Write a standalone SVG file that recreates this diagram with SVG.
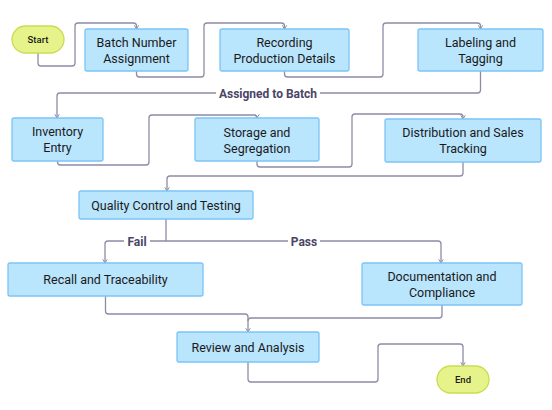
<svg xmlns="http://www.w3.org/2000/svg" width="552" height="410" viewBox="0 0 552 410">
<style>
.box{fill:#b9e5fd;stroke:#7cc4f6;stroke-width:1.3}
.term{fill:#e6f38a;stroke:#c9dd52;stroke-width:1.3}
.t{font-family:Roboto,"Liberation Sans",sans-serif;font-size:12.5px;fill:#1a1a1a;text-anchor:middle}
.ts{font-family:Roboto,"Liberation Sans",sans-serif;font-size:9.5px;font-weight:500;fill:#1a1a1a;text-anchor:middle}
.c{fill:none;stroke:#8f8ba6;stroke-width:1.3;stroke-linejoin:round}
.lbl{font-family:Roboto,"Liberation Sans",sans-serif;font-size:12px;font-weight:bold;fill:#4b4568;text-anchor:middle}
.lbg{fill:#ffffff}
</style>
<defs>
<marker id="arr" viewBox="0 0 8 8" refX="6" refY="4" markerWidth="6" markerHeight="6" orient="auto" markerUnits="userSpaceOnUse">
<path d="M1,1 L6,4 L1,7" fill="none" stroke="#8f8ba6" stroke-width="1.3"/>
</marker>
</defs>
<rect width="552" height="410" fill="#ffffff"/>
<g id="connectors">
<path class="c" marker-end="url(#arr)" d="M38,53 V63 Q38,66 41,66 H72 Q75,66 75,63 V26 Q75,23 78,23 H133.5 Q136.5,23 136.5,26 V29"/>
<path class="c" marker-end="url(#arr)" d="M136.5,71 V74 Q136.5,77 139.5,77 H201 Q204,77 204,74 V26 Q204,23 207,23 H281.5 Q284.5,23 284.5,26 V29"/>
<path class="c" marker-end="url(#arr)" d="M284.5,71 V74 Q284.5,77 287.5,77 H380 Q383,77 383,74 V26 Q383,23 386,23 H477.5 Q480.5,23 480.5,26 V29"/>
<path class="c" marker-end="url(#arr)" d="M480.5,71 V90 Q480.5,93 477.5,93 H60 Q57,93 57,96 V118"/>
<path class="c" marker-end="url(#arr)" d="M57.5,161 V162 Q57.5,165 60.5,165 H146 Q149,165 149,162 V118 Q149,115 152,115 H254 Q257,115 257,118"/>
<path class="c" marker-end="url(#arr)" d="M257,161 V164 Q257,167 260,167 H349 Q352,167 352,164 V117 Q352,114 355,114 H460 Q463,114 463,117 V119"/>
<path class="c" marker-end="url(#arr)" d="M463,162 V173 Q463,176 460,176 H170 Q167,176 167,179 V191"/>
<path class="c" marker-end="url(#arr)" d="M166,219 V241 H108 Q105,241 105,244 V263"/>
<path class="c" marker-end="url(#arr)" d="M166,241 H438 Q441,241 441,244 V263"/>
<path class="c" marker-end="url(#arr)" d="M105.5,296 V311 Q105.5,314 108.5,314 H245 Q248,314 248,317 V332"/>
<path class="c" d="M442,305 V315 Q442,318 439,318 H251 Q248,318 248,321"/>
<path class="c" marker-end="url(#arr)" d="M248,362 V379 Q248,382 251,382 H375 Q378,382 378,379 V347 Q378,344 381,344 H460 Q463,344 463,347 V366"/>
<rect class="lbg" x="216" y="85" width="104" height="16"/>
<text class="lbl" x="268" y="97.5">Assigned to Batch</text>
<rect class="lbg" x="124" y="233" width="26" height="16"/>
<text class="lbl" x="137" y="245.5">Fail</text>
<rect class="lbg" x="288" y="233" width="32" height="16"/>
<text class="lbl" x="304" y="245.5">Pass</text>
</g>
<g id="start">
<rect class="term" x="12" y="26" width="52" height="27" rx="13.5"/>
<text class="ts" x="38" y="43">Start</text>
</g>
<g id="batch">
<rect class="box" x="85" y="29" width="103" height="42" rx="2"/>
<text class="t" x="136.5" y="46.5">Batch Number</text>
<text class="t" x="136.5" y="62.5">Assignment</text>
</g>
<g id="recording">
<rect class="box" x="220" y="29" width="129" height="42" rx="2"/>
<text class="t" x="284.5" y="46.5">Recording</text>
<text class="t" x="284.5" y="62.5">Production Details</text>
</g>
<g id="labeling">
<rect class="box" x="418" y="29" width="125" height="42" rx="2"/>
<text class="t" x="480.5" y="46.5">Labeling and</text>
<text class="t" x="480.5" y="62.5">Tagging</text>
</g>
<g id="inventory">
<rect class="box" x="12" y="118" width="91" height="43" rx="2"/>
<text class="t" x="57.5" y="136">Inventory</text>
<text class="t" x="57.5" y="152">Entry</text>
</g>
<g id="storage">
<rect class="box" x="195" y="118" width="124" height="43" rx="2"/>
<text class="t" x="257" y="136.5">Storage and</text>
<text class="t" x="257" y="152.5">Segregation</text>
</g>
<g id="distribution">
<rect class="box" x="385" y="119" width="156" height="43" rx="2"/>
<text class="t" x="463" y="137">Distribution and Sales</text>
<text class="t" x="463" y="153">Tracking</text>
</g>
<g id="qc">
<rect class="box" x="79" y="191" width="174" height="28" rx="2"/>
<text class="t" x="166" y="209.5">Quality Control and Testing</text>
</g>
<g id="recall">
<rect class="box" x="8" y="263" width="195" height="33" rx="2"/>
<text class="t" x="105.5" y="284">Recall and Traceability</text>
</g>
<g id="documentation">
<rect class="box" x="362" y="263" width="160" height="42" rx="2"/>
<text class="t" x="442" y="280.5">Documentation and</text>
<text class="t" x="442" y="296.5">Compliance</text>
</g>
<g id="review">
<rect class="box" x="177" y="332" width="142" height="30" rx="2"/>
<text class="t" x="248" y="351.5">Review and Analysis</text>
</g>
<g id="end">
<rect class="term" x="437" y="366" width="52" height="27" rx="13.5"/>
<text class="ts" x="463" y="383">End</text>
</g>
</svg>
